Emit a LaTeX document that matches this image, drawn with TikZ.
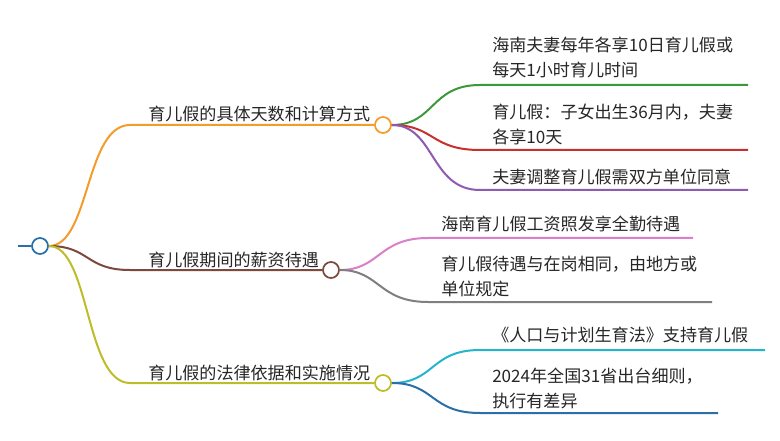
\documentclass[tikz,border=0pt]{standalone}
\usepackage{fontspec}
\setmainfont{Noto Sans CJK SC}
\usetikzlibrary{positioning}
\definecolor{cOr}{HTML}{F39C2B}
\definecolor{cGr}{HTML}{3A9A3A}
\definecolor{cRd}{HTML}{C8302E}
\definecolor{cPu}{HTML}{8E5BB0}
\definecolor{cBr}{HTML}{7B4A3C}
\definecolor{cPk}{HTML}{DA7FC8}
\definecolor{cGy}{HTML}{7F7F7F}
\definecolor{cYe}{HTML}{BDBD2A}
\definecolor{cCy}{HTML}{22B5CC}
\definecolor{cBl}{HTML}{2A6FA8}
\tikzset{
  lbl/.style={anchor=base west, inner sep=0pt, font=\fontsize{12.8}{18.5}\selectfont, text=black!85},
  lbl2/.style={lbl, align=left, anchor=north west},
  knot/.style={draw, circle, fill=white, line width=1.3pt, minimum size=12pt, inner sep=0pt},
  br/.style={line width=1.5pt}
}
\begin{document}
\begin{tikzpicture}[x=0.75pt,y=-0.75pt]
\useasboundingbox (0,0) rectangle (780,441);
\coordinate (s) at (18,246);
\node[knot, draw=cBl] (root) at (40,246) {};
\draw[br, cBl] (s) -- (root);
% level 1
\node[knot, draw=cOr] (k1) at (383,125) {};
\node[knot, draw=cBr] (k2) at (331,270) {};
\node[knot, draw=cYe] (k3) at (383,383) {};
\coordinate (a1) at (130,125);
\coordinate (a2) at (130,270);
\coordinate (a3) at (130,383);
\draw[br, cOr] (root.east) .. controls (90,246) and (85,125) .. (a1) -- (k1);
\draw[br, cBr] (root.east) .. controls (90,246) and (85,270) .. (a2) -- (k2);
\draw[br, cYe] (root.east) .. controls (90,246) and (85,383) .. (a3) -- (k3);
\node[lbl] (t1) at (148,121) {育儿假的具体天数和计算方式};
\node[lbl] (t2) at (148,267) {育儿假期间的薪资待遇};
\node[lbl] (t3) at (148,379) {育儿假的法律依据和实施情况};
% level 2
\coordinate (b1) at (480,85);  \coordinate (e1) at (748,85);
\coordinate (b2) at (480,150); \coordinate (e2) at (748,150);
\coordinate (b3) at (480,190); \coordinate (e3) at (748,190);
\coordinate (b4) at (428,238); \coordinate (e4) at (693,238);
\coordinate (b5) at (428,302); \coordinate (e5) at (712,302);
\coordinate (b6) at (480,350); \coordinate (e6) at (765,350);
\coordinate (b7) at (480,413); \coordinate (e7) at (718,413);
\draw[br, cGr] (k1.east) .. controls (435,125) and (430,85) .. (b1) -- (e1);
\draw[br, cRd] (k1.east) .. controls (435,125) and (430,150) .. (b2) -- (e2);
\draw[br, cPu] (k1.east) .. controls (435,125) and (430,190) .. (b3) -- (e3);
\draw[br, cPk] (k2.east) .. controls (380,270) and (378,238) .. (b4) -- (e4);
\draw[br, cGy] (k2.east) .. controls (380,270) and (378,302) .. (b5) -- (e5);
\draw[br, cCy] (k3.east) .. controls (435,383) and (430,350) .. (b6) -- (e6);
\draw[br, cBl] (k3.east) .. controls (435,383) and (430,413) .. (b7) -- (e7);
\node[lbl2] (u1) at (492,37) {海南夫妻每年各享10日育儿假或\\每天1小时育儿时间};
\node[lbl2] (u2) at (492,104) {育儿假：子女出生36月内，夫妻\\各享10天};
\node[lbl2] (u3) at (492,169) {夫妻调整育儿假需双方单位同意};
\node[lbl2] (u4) at (441,216) {海南育儿假工资照发享全勤待遇};
\node[lbl2] (u5) at (441,256) {育儿假待遇与在岗相同，由地方或\\单位规定};
\node[lbl2] (u6) at (492,327) {《人口与计划生育法》支持育儿假};
\node[lbl2] (u7) at (492,368) {2024年全国31省出台细则，\\执行有差异};
\end{tikzpicture}
\end{document}
